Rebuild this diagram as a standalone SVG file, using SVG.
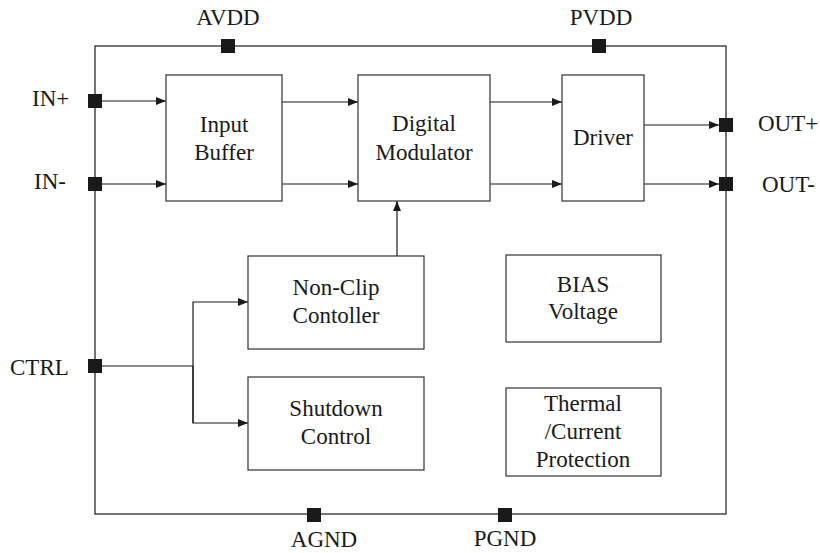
<svg xmlns="http://www.w3.org/2000/svg" width="820" height="553" viewBox="0 0 820 553">
<style>
text{font-family:"Liberation Serif","Times New Roman",serif;font-size:23px;fill:#1a1a1a}
.c{text-anchor:middle}
.box{fill:#fff;stroke:#333;stroke-width:1.2}
.pin{fill:#1a1a1a;stroke:none}
.ln{fill:none;stroke:#1a1a1a;stroke-width:1.2}
</style>
<defs>
<marker id="ah" viewBox="0 0 10 8" refX="10" refY="4" markerWidth="10" markerHeight="8" markerUnits="userSpaceOnUse" orient="auto">
<path d="M0,0L10,4L0,8z" fill="#1a1a1a"/>
</marker>
</defs>
<rect id="chip" x="95" y="46" width="631" height="468" fill="none" stroke="#1a1a1a" stroke-width="1.2"/>
<g id="connectors">
<line class="ln" x1="102" y1="101" x2="166" y2="101" marker-end="url(#ah)"/>
<line class="ln" x1="102" y1="184" x2="166" y2="184" marker-end="url(#ah)"/>
<line class="ln" x1="282" y1="102" x2="358" y2="102" marker-end="url(#ah)"/>
<line class="ln" x1="282" y1="184" x2="358" y2="184" marker-end="url(#ah)"/>
<line class="ln" x1="490" y1="102" x2="562" y2="102" marker-end="url(#ah)"/>
<line class="ln" x1="490" y1="184" x2="562" y2="184" marker-end="url(#ah)"/>
<line class="ln" x1="644" y1="125" x2="719" y2="125" marker-end="url(#ah)"/>
<line class="ln" x1="644" y1="184" x2="719" y2="184" marker-end="url(#ah)"/>
<line class="ln" x1="397" y1="256" x2="397" y2="201" marker-end="url(#ah)"/>
<polyline class="ln" points="102,366 193,366"/>
<polyline class="ln" points="193,423 193,302 248,302" marker-end="url(#ah)"/>
<polyline class="ln" points="193,366 193,423 248,423" marker-end="url(#ah)"/>
</g>
<g id="pin-avdd"><rect class="pin" x="221" y="39" width="14" height="14"/><text class="c" x="228" y="25">AVDD</text></g>
<g id="pin-pvdd"><rect class="pin" x="592" y="39" width="14" height="14"/><text class="c" x="601" y="25">PVDD</text></g>
<g id="pin-inp"><rect class="pin" x="88" y="94" width="14" height="14"/><text x="32" y="106">IN+</text></g>
<g id="pin-inn"><rect class="pin" x="88" y="177" width="14" height="14"/><text x="34" y="189">IN-</text></g>
<g id="pin-outp"><rect class="pin" x="719" y="118" width="14" height="14"/><text x="758" y="131">OUT+</text></g>
<g id="pin-outn"><rect class="pin" x="719" y="177" width="14" height="14"/><text x="762" y="192">OUT-</text></g>
<g id="pin-ctrl"><rect class="pin" x="88" y="359" width="14" height="14"/><text x="10" y="375">CTRL</text></g>
<g id="pin-agnd"><rect class="pin" x="307" y="508" width="14" height="14"/><text class="c" x="324" y="547">AGND</text></g>
<g id="pin-pgnd"><rect class="pin" x="498" y="508" width="14" height="14"/><text class="c" x="505" y="546">PGND</text></g>
<g id="input-buffer"><rect class="box" x="166" y="75" width="116" height="126"/><text class="c" x="224" y="132">Input</text><text class="c" x="224" y="160">Buffer</text></g>
<g id="digital-modulator"><rect class="box" x="358" y="75" width="132" height="126"/><text class="c" x="424" y="131">Digital</text><text class="c" x="424" y="160">Modulator</text></g>
<g id="driver"><rect class="box" x="562" y="75" width="82" height="126"/><text class="c" x="603" y="145">Driver</text></g>
<g id="non-clip"><rect class="box" x="248" y="256" width="176" height="93"/><text class="c" x="336" y="295">Non-Clip</text><text class="c" x="336" y="323">Contoller</text></g>
<g id="shutdown"><rect class="box" x="248" y="377" width="176" height="93"/><text class="c" x="336" y="416">Shutdown</text><text class="c" x="336" y="444">Control</text></g>
<g id="bias"><rect class="box" x="506" y="255" width="155" height="87"/><text class="c" x="583" y="292">BIAS</text><text class="c" x="583" y="319">Voltage</text></g>
<g id="protection"><rect class="box" x="506" y="388" width="155" height="88"/><text class="c" x="583" y="411">Thermal</text><text class="c" x="583" y="439">/Current</text><text class="c" x="583" y="467">Protection</text></g>
</svg>
